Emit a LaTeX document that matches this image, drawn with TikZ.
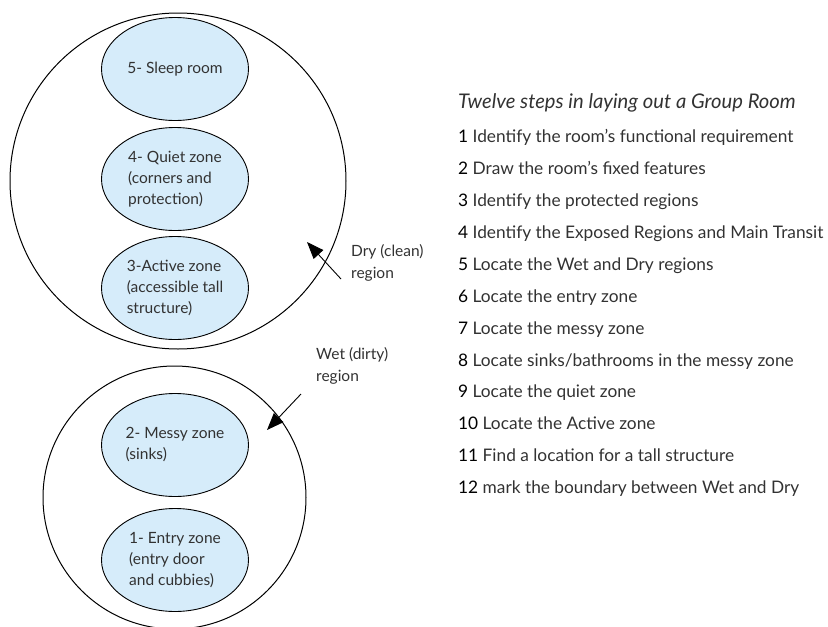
\documentclass[tikz,border=0pt]{standalone}
\usepackage{fontspec}
\setmainfont{Lato}
\usetikzlibrary{shapes.geometric,arrows.meta}
\definecolor{zonefill}{RGB}{214,236,250}
\definecolor{ink}{RGB}{50,50,50}
\tikzset{
  region/.style={draw=black, line width=1pt, circle, inner sep=0pt},
  zone/.style={draw=black, line width=0.9pt, ellipse, fill=zonefill, inner sep=0pt,
    minimum width=147pt, minimum height=103pt, align=left, font=\fontsize{15.5}{21}\selectfont, text=ink},
  note/.style={align=left, anchor=base west, inner sep=0pt, font=\fontsize{15.5}{22}\selectfont, text=ink},
  pointer/.style={line width=0.9pt, -{Triangle[length=17pt,width=13pt]}},
  stepline/.style={anchor=base west, inner sep=0pt, font=\fontsize{17.3}{20}\selectfont, text=ink},
}
\newcommand{\stepno}[1]{\textcolor{black}{#1}}
\begin{document}
\begin{tikzpicture}[x=1pt,y=-1pt]
\useasboundingbox (0,0) rectangle (828,627);

% dry (clean) region and its zones
\node[region, minimum size=336pt] (dry) at (178,181) {};
\node[zone] (sleep) at (175,69) {5- Sleep room};
\node[zone] (quiet) at (175,179) {4- Quiet zone\\(corners and\\protection)};
\node[zone] (active) at (175,288) {3-Active zone\\(accessible tall\\structure)};

% wet (dirty) region and its zones
\node[region, minimum size=263pt] (wet) at (174.5,497.5) {};
\node[zone] (messy) at (175,445) {2- Messy zone\\(sinks)};
\node[zone] (entry) at (175,560) {1- Entry zone\\(entry door\\and cubbies)};

% region labels with pointers
\node[note] (drylabel) at (351,278) {Dry (clean)\\region};
\coordinate (dryfrom) at (341,279);
\coordinate (drytip) at (307,242);
\draw[pointer] (dryfrom) -- (drytip);

\node[note] (wetlabel) at (316,381) {Wet (dirty)\\region};
\coordinate (wetfrom) at (301,394);
\coordinate (wettip) at (267,430);
\draw[pointer] (wetfrom) -- (wettip);

% list of steps
\node[stepline, font=\fontsize{20.2}{22}\selectfont\itshape] (title) at (458,108) {Twelve steps in laying out a Group Room};
\node[stepline] (s1) at (458,142) {\stepno{1} Identify the room’s functional requirement};
\node[stepline] (s2) at (458,174) {\stepno{2} Draw the room’s fixed features};
\node[stepline] (s3) at (458,206) {\stepno{3} Identify the protected regions};
\node[stepline] (s4) at (458,238) {\stepno{4} Identify the Exposed Regions and Main Transit};
\node[stepline] (s5) at (458,270) {\stepno{5} Locate the Wet and Dry regions};
\node[stepline] (s6) at (458,302) {\stepno{6} Locate the entry zone};
\node[stepline] (s7) at (458,334) {\stepno{7} Locate the messy zone};
\node[stepline] (s8) at (458,366) {\stepno{8} Locate sinks/bathrooms in the messy zone};
\node[stepline] (s9) at (458,397) {\stepno{9} Locate the quiet zone};
\node[stepline] (s10) at (458,429) {\stepno{10} Locate the Active zone};
\node[stepline] (s11) at (458,461) {\stepno{11} Find a location for a tall structure};
\node[stepline] (s12) at (458,493) {\stepno{12} mark the boundary between Wet and Dry};
\end{tikzpicture}
\end{document}
